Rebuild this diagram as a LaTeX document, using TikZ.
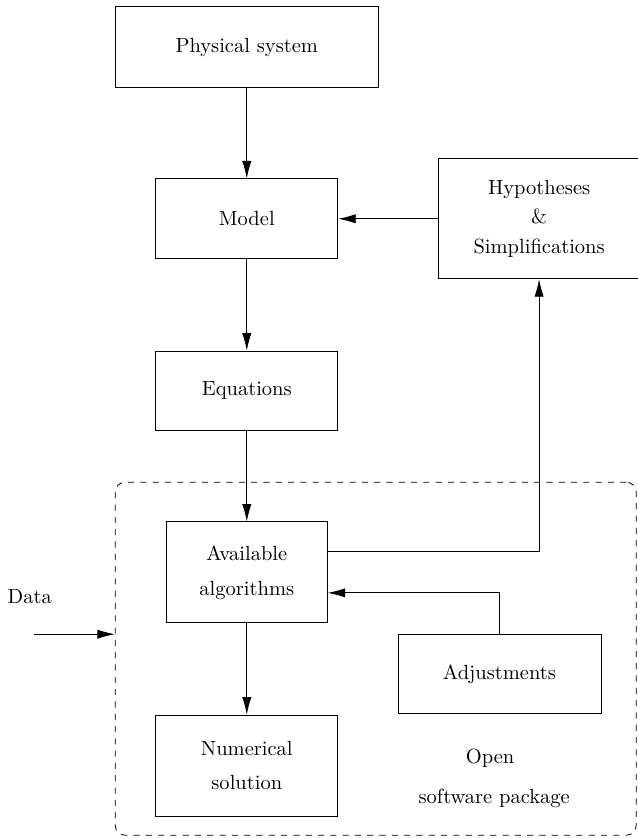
\documentclass[tikz,border=0pt]{standalone}
\usepackage{amssymb}
\usepackage{amsmath}
\usepackage{tikz}
\usetikzlibrary{arrows.meta}

\begin{document}
\begin{tikzpicture}[
	box/.style={draw,thin,inner sep=2pt,align=center},
	flow/.style={->,>={Latex[length=8.5pt,width=4.5pt]},thin}
	]
	\useasboundingbox (0,0) rectangle (10.92,14.38);
	
	%main chain
	\node[box,minimum width=4.51cm,minimum height=1.39cm] (phys) at (4.23,13.57) {Physical system};
	\node[box,minimum width=3.12cm,minimum height=1.37cm] (model) at (4.23,10.63) {Model};
	\node[box,minimum width=3.46cm,minimum height=2.06cm] (hyp) at (9.24,10.63) {Hypotheses\\[2.5pt]\&\\[2.5pt]Simplifications};
	\node[box,minimum width=3.12cm,minimum height=1.37cm] (eq) at (4.23,7.68) {Equations};
	
	%software package
	\node[draw,thin,dashed,rounded corners=0.17cm,minimum width=8.93cm,minimum height=6.05cm] (pkg) at (6.44,3.09) {};
	\node[box,minimum width=2.76cm,minimum height=1.73cm] (alg) at (4.23,4.57) {Available\\[5pt]algorithms};
	\node[box,minimum width=3.48cm,minimum height=1.37cm] (adj) at (8.56,2.83) {Adjustments};
	\node[box,minimum width=3.12cm,minimum height=1.73cm] (num) at (4.23,1.26) {Numerical\\[5pt]solution};
		\node (open) at (8.40,1.39) {Open};
		\node (pkgname) at (8.47,0.70) {software package};
	
	%data input
	\node (data) at (0.51,4.15) {Data};
	\coordinate (datain) at (0.58,3.51);
	
	%arrows
	\draw[flow] (phys) -- (model);
	\draw[flow] (hyp) -- (model);
	\draw[flow] (model) -- (eq);
	\draw[flow] (eq) -- (alg);
	\draw[flow] (alg) -- (num);
	\draw[flow] ([yshift=10pt]alg.east) -| (hyp.south);	%feedback to hypotheses
	\draw[flow] (adj.north) |- ([yshift=-10pt]alg.east);
	\draw[flow] (datain) -- (datain -| pkg.west);
	
	%\draw[help lines] (0,0) grid (11,14);
\end{tikzpicture}
\end{document}
